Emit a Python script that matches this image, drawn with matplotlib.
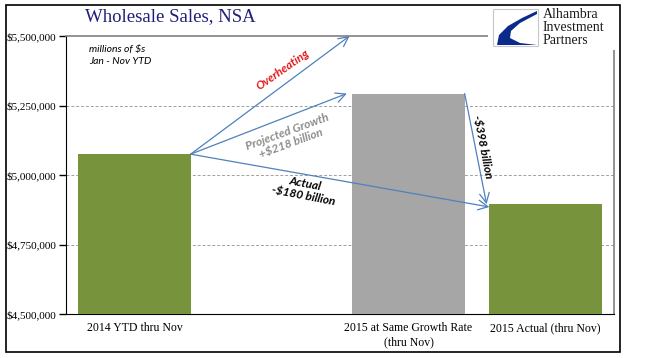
import matplotlib.pyplot as plt
from matplotlib.patches import Rectangle, Polygon
from matplotlib.ticker import FuncFormatter

categories = ['2014 YTD thru Nov', '', '2015 at Same Growth Rate\n(thru Nov)', '2015 Actual (thru Nov)']
values = [5075000, None, 5293000, 4895000]
colors = ['#77933C', None, '#A6A6A6', '#77933C']
yticks = [4500000, 4750000, 5000000, 5250000, 5500000]

W, H = 649, 358
fig = plt.figure(figsize=(W / 100, H / 100), dpi=100)


def fx(px):
    return px / W


def fy(py):
    return 1 - py / H


ax = fig.add_axes([fx(66), fy(314), fx(614) - fx(66), fy(36) - fy(314)])

bw = 0.82
for i, (v, c) in enumerate(zip(values, colors)):
    if v is None:
        continue
    ax.bar(i, v - yticks[0], bottom=yticks[0], width=bw, color=c, zorder=3)

ax.set_xlim(-0.5, 3.5)
ax.set_ylim(yticks[0], yticks[-1])
ax.set_yticks(yticks)
ax.yaxis.set_major_formatter(FuncFormatter(lambda v, p: '${:,.0f}'.format(v)))
ax.set_xticks(range(len(categories)))
ax.set_xticklabels(categories, family='Liberation Serif', fontsize=8.5)
ax.tick_params(axis='x', length=0, pad=6)
ax.tick_params(axis='y', length=5, width=1, pad=2, labelsize=8)
for lab in ax.get_yticklabels():
    lab.set_family('Liberation Serif')

for t in yticks[1:-1]:
    ax.axhline(t, color='#A0A0A0', lw=0.7, ls=(0, (3, 2)), zorder=1)

for s in ['top', 'right']:
    ax.spines[s].set_color('#808080')
    ax.spines[s].set_linewidth(1.2)
ax.spines['left'].set_color('black')
ax.spines['bottom'].set_color('black')

# arrows
acol = '#4F81BD'
x0 = 0 + bw / 2
y0 = values[0]
arrows = [
    ((x0, y0), (1.57, 5500000)),
    ((x0, y0), (2 - bw / 2 - 0.04, values[2])),
    ((x0, y0), (3 - bw / 2, values[3] - 10000)),
    ((2 + bw / 2, values[2]), (3 - bw / 2 - 0.02, values[3])),
]
for start, end in arrows:
    ax.annotate('', xy=end, xytext=start, zorder=5,
                arrowprops=dict(arrowstyle='->,head_length=0.7,head_width=0.35',
                                color=acol, lw=0.9, shrinkA=0, shrinkB=0))

lbl = dict(family=['Lato', 'DejaVu Sans'], style='italic', weight='bold',
           fontsize=8.5, ha='center', va='center', zorder=6)
ax.text(1.08, 5378000, 'Overheating', color='#E31A1C', rotation=35, **lbl)
ax.text(1.13, 5135000, 'Projected Growth\n+$218 billion', color='#8C8C8C',
        rotation=20, linespacing=1.1, **lbl)
ax.text(1.24, 4948000, 'Actual\n-$180 billion', color='black', rotation=-11,
        linespacing=1.1, **lbl)
ax.text(2.54, 5100000, '-$398 billion', color='black', rotation=-79, **lbl)

ax.text(-0.33, 5430000, 'millions of $s\nJan - Nov YTD', family=['Lato', 'DejaVu Sans'],
        style='italic', fontsize=7.5, ha='left', va='center', linespacing=1.5)

fig.text(fx(85), fy(17), 'Wholesale Sales, NSA', family='Liberation Serif',
         fontsize=13.5, color='#1F1F78', ha='left', va='center')

# logo
fig.patches.append(Rectangle((fx(488), fy(50)), fx(618) - fx(488), fy(7) - fy(50),
                             transform=fig.transFigure, facecolor='white',
                             edgecolor='none', zorder=10))
fig.patches.append(Rectangle((fx(493), fy(46)), fx(538) - fx(493), fy(9) - fy(46),
                             transform=fig.transFigure, facecolor='white',
                             edgecolor='#C8C8C8', lw=0.8, zorder=11))
swoosh = [(537, 11), (522, 18), (508, 26), (499, 35), (497, 45), (537, 45),
          (520, 43), (510, 38), (511, 31), (520, 23), (537, 14)]
fig.patches.append(Polygon([(fx(a), fy(b)) for a, b in swoosh], closed=True,
                           transform=fig.transFigure, facecolor='#0A2A8C',
                           edgecolor='none', zorder=12))
for i, w in enumerate(['Alhambra', 'Investment', 'Partners']):
    fig.text(fx(543), fy(15 + i * 12.5), w, family='Liberation Serif', fontsize=10,
             ha='left', va='center', color='#1A1A1A', zorder=13)

# outer frame
fig.patches.append(Rectangle((fx(6), fy(352)), fx(620) - fx(6), fy(5) - fy(352),
                             transform=fig.transFigure, fill=False,
                             edgecolor='black', lw=1.2, zorder=20))

fig.savefig('out.png', dpi=100)
